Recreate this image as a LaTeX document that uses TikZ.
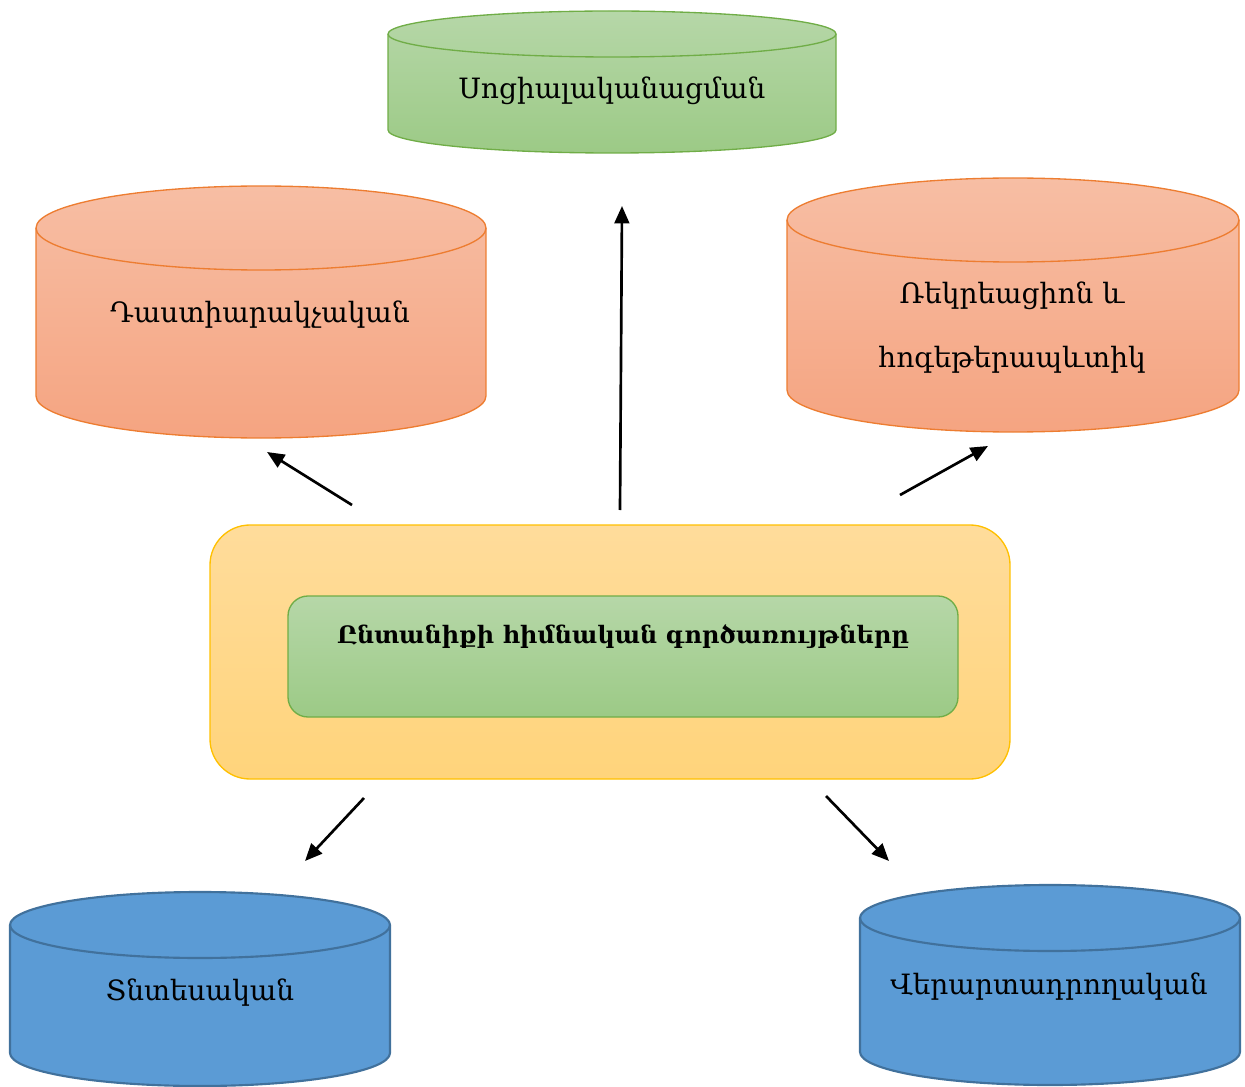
\documentclass[tikz,border=0pt]{standalone}
\usepackage{fontspec}
\setmainfont{DejaVu Serif}
\usetikzlibrary{arrows.meta}
\definecolor{grnTop}{HTML}{B6D7A8}
\definecolor{grnBot}{HTML}{9CCA86}
\definecolor{grnLine}{HTML}{70AD47}
\definecolor{orgTop}{HTML}{F7BEA4}
\definecolor{orgBot}{HTML}{F5A481}
\definecolor{orgLine}{HTML}{ED7D31}
\definecolor{bluFill}{HTML}{5B9BD5}
\definecolor{bluLine}{HTML}{41719C}
\definecolor{yelTop}{HTML}{FFDC9B}
\definecolor{yelBot}{HTML}{FFD47B}
\definecolor{yelLine}{HTML}{FFC000}
\tikzset{
  greenshade/.style={top color=grnTop, bottom color=grnBot, draw=grnLine, line width=1pt},
  greenedge/.style={draw=grnLine, line width=1pt},
  orangeshade/.style={top color=orgTop, bottom color=orgBot, draw=orgLine, line width=1pt},
  orangeedge/.style={draw=orgLine, line width=1pt},
  blueshade/.style={fill=bluFill, draw=bluLine, line width=1.6pt},
  blueedge/.style={draw=bluLine, line width=1.6pt},
  yellowshade/.style={top color=yelTop, bottom color=yelBot, draw=yelLine, line width=1pt},
  lbl/.style={font=\fontsize{21}{26}\selectfont, text=black, align=center},
  conn/.style={line width=2pt, -{Triangle[length=13pt,width=11pt]}},
}
% \mycyl{x1}{x2}{top centre y}{bottom centre y}{ry}{body style}{edge style}
\newcommand\mycyl[7]{%
  \pgfmathsetmacro\rxx{(#2-#1)/2}%
  \path[#6] (#1,#3) -- (#1,#4) arc[start angle=180,end angle=360,x radius=\rxx,y radius=#5]
     -- (#2,#3) arc[start angle=0,end angle=180,x radius=\rxx,y radius=#5] -- cycle;
  \path[#7] (#1,#3) arc[start angle=180,end angle=360,x radius=\rxx,y radius=#5];
}
\begin{document}
\begin{tikzpicture}[x=0.75pt,y=0.75pt]
\useasboundingbox (0,0) rectangle (1245,-1087);
% cylinders
\mycyl{388}{836}{-34}{-130}{23}{greenshade}{greenedge}
\mycyl{36}{486}{-228}{-396}{42}{orangeshade}{orangeedge}
\mycyl{787}{1239}{-220}{-390}{42}{orangeshade}{orangeedge}
\mycyl{10}{390}{-925}{-1053}{33}{blueshade}{blueedge}
\mycyl{860}{1240}{-918}{-1052}{33}{blueshade}{blueedge}
% central boxes
\path[yellowshade, rounded corners=30pt] (210,-525) rectangle (1010,-779);
\path[greenshade, rounded corners=15pt] (288,-596) rectangle (958,-717);
% labels
\node[lbl] (soc) at (612,-91) {Սոցիալականացման};
\node[lbl] (das) at (260,-315) {Դաստիարակչական};
\node[lbl] (rek1) at (1012,-296) {Ռեկրեացիոն և};
\node[lbl] (rek2) at (1012,-360) {հոգեթերապևտիկ};
\node[lbl, font=\fontsize{18}{22}\selectfont\bfseries] (main) at (623,-637) {Ընտանիքի հիմնական գործառույթները};
\node[lbl] (tnt) at (200,-993) {Տնտեսական};
\node[lbl] (ver) at (1049,-987) {Վերարտադրողական};
% arrow ends
\coordinate (a1s) at (352,-505); \coordinate (a1e) at (267,-452);
\coordinate (a2s) at (620,-510); \coordinate (a2e) at (622,-206);
\coordinate (a3s) at (900,-495); \coordinate (a3e) at (988,-446);
\coordinate (a4s) at (364,-798); \coordinate (a4e) at (305,-861);
\coordinate (a5s) at (826,-796); \coordinate (a5e) at (889,-861);
\draw[conn] (a1s) -- (a1e);
\draw[conn] (a2s) -- (a2e);
\draw[conn] (a3s) -- (a3e);
\draw[conn] (a4s) -- (a4e);
\draw[conn] (a5s) -- (a5e);
\end{tikzpicture}
\end{document}
